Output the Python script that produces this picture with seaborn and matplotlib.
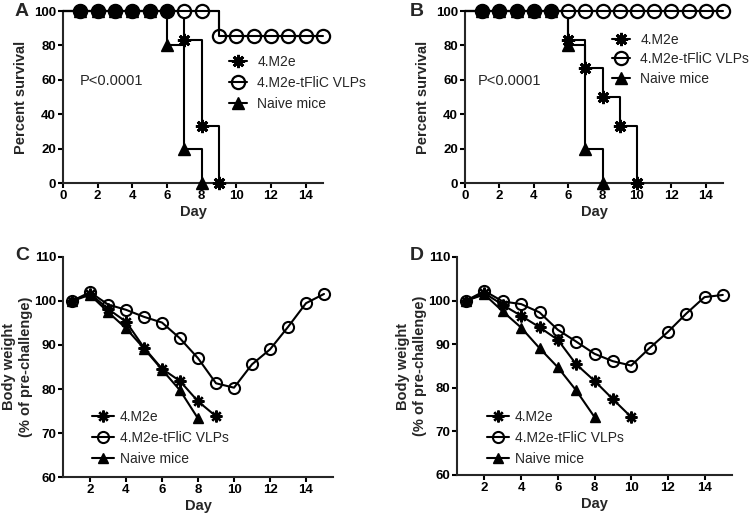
import numpy as np
import pandas as pd
import matplotlib
matplotlib.use("Agg")
import matplotlib.pyplot as plt
from matplotlib.lines import Line2D
import seaborn as sns

# ---------------- data ----------------
groups = ["4.M2e", "4.M2e-tFliC VLPs", "Naive mice"]

# Survival (percent) — panel A
surv_A_m2e_days = [0, 1, 2, 3, 4, 5, 6, 7, 8, 9]
surv_A_m2e = [100, 100, 100, 100, 100, 100, 100, 83.3, 33.3, 0]
surv_A_vlp_days = [0, 1, 2, 3, 4, 5, 6, 7, 8, 9, 10, 11, 12, 13, 14, 15]
surv_A_vlp = [100, 100, 100, 100, 100, 100, 100, 100, 100, 85.7, 85.7, 85.7, 85.7, 85.7, 85.7, 85.7]
surv_A_naive_days = [0, 1, 2, 3, 4, 5, 6, 7, 8]
surv_A_naive = [100, 100, 100, 100, 100, 100, 80, 20, 0]

# Survival (percent) — panel B
surv_B_m2e_days = [0, 1, 2, 3, 4, 5, 6, 7, 8, 9, 10]
surv_B_m2e = [100, 100, 100, 100, 100, 100, 83.3, 66.7, 50, 33.3, 0]
surv_B_vlp_days = [0, 1, 2, 3, 4, 5, 6, 7, 8, 9, 10, 11, 12, 13, 14, 15]
surv_B_vlp = [100, 100, 100, 100, 100, 100, 100, 100, 100, 100, 100, 100, 100, 100, 100, 100]
surv_B_naive_days = [0, 1, 2, 3, 4, 5, 6, 7, 8]
surv_B_naive = [100, 100, 100, 100, 100, 100, 80, 20, 0]

# Body weight (% of pre-challenge) — panel C
bw_C_m2e_days = [1, 2, 3, 4, 5, 6, 7, 8, 9]
bw_C_m2e = [100, 101.7, 98.2, 95.3, 89.4, 84.6, 81.8, 77.2, 73.8]
bw_C_vlp_days = [1, 2, 3, 4, 5, 6, 7, 8, 9, 10, 11, 12, 13, 14, 15]
bw_C_vlp = [100, 102.0, 99.2, 98.0, 96.4, 95.1, 91.5, 87.0, 81.3, 80.3, 85.6, 89.0, 94.1, 99.5, 101.6]
bw_C_naive_days = [1, 2, 3, 4, 5, 6, 7, 8]
bw_C_naive = [100, 101.4, 97.5, 93.8, 89.2, 84.4, 79.7, 73.3]

# Body weight (% of pre-challenge) — panel D
bw_D_m2e_days = [1, 2, 3, 4, 5, 6, 7, 8, 9, 10]
bw_D_m2e = [100, 101.7, 99.0, 96.5, 93.9, 91.0, 85.4, 81.6, 77.4, 73.3]
bw_D_vlp_days = [1, 2, 3, 4, 5, 6, 7, 8, 9, 10, 11, 12, 13, 14, 15]
bw_D_vlp = [100, 102.2, 99.8, 99.2, 97.3, 93.3, 90.6, 87.8, 86.1, 85.1, 89.1, 92.8, 97.0, 100.8, 101.3]
bw_D_naive_days = [1, 2, 3, 4, 5, 6, 7, 8]
bw_D_naive = [100, 101.4, 97.5, 93.8, 89.1, 84.7, 79.4, 73.3]

surv_xticks = [0, 2, 4, 6, 8, 10, 12, 14]
surv_yticks = [0, 20, 40, 60, 80, 100]
bw_xticks = [2, 4, 6, 8, 10, 12, 14]
bw_yticks = [60, 70, 80, 90, 100, 110]

# ---------------- style ----------------
sns.set_style("ticks")
plt.rcParams["font.family"] = ["Liberation Sans", "DejaVu Sans"]
plt.rcParams["axes.linewidth"] = 1.5
plt.rcParams["xtick.major.width"] = 1.5
plt.rcParams["ytick.major.width"] = 1.5
plt.rcParams["xtick.major.size"] = 3.5
plt.rcParams["ytick.major.size"] = 3.5
plt.rcParams["xtick.direction"] = "out"
plt.rcParams["ytick.direction"] = "out"

W, H = 750, 516
fig = plt.figure(figsize=(W / 100, H / 100), dpi=100)


def px_axes(left, right, top, bottom):
    return fig.add_axes([left / W, 1 - bottom / H, (right - left) / W, (bottom - top) / H])


STAR = (8, 2, 0)
LW = 1.5


def style_axes(ax, xticks, yticks, xlabel, ylabel, ylabelpad):
    sns.despine(ax=ax)
    ax.set_xticks(xticks)
    ax.set_yticks(yticks)
    ax.set_xticklabels([str(t) for t in xticks], fontsize=9.5, fontweight="bold")
    ax.set_yticklabels([str(t) for t in yticks], fontsize=9.5, fontweight="bold")
    ax.tick_params(axis="both", pad=1.5, colors="black")
    ax.set_xlabel(xlabel, fontsize=10.5, fontweight="bold", labelpad=2)
    ax.set_ylabel(ylabel, fontsize=10.5, fontweight="bold", labelpad=ylabelpad)
    ax.set_facecolor("white")


def survival_panel(ax, m2e_d, m2e, vlp_d, vlp, nv_d, nv):
    for d, v in [(nv_d, nv), (m2e_d, m2e), (vlp_d, vlp)]:
        sns.lineplot(x=d, y=v, ax=ax, color="black", lw=LW, drawstyle="steps-post",
                     sort=False, clip_on=False, zorder=3)
    ms = 9.5
    # markers at day >= 1
    ax.plot(nv_d[1:], nv[1:], ls="none", marker="^", ms=8, color="black", clip_on=False, zorder=4)
    ax.plot(m2e_d[1:], m2e[1:], ls="none", marker=STAR, ms=ms, mew=2.0, color="black",
            clip_on=False, zorder=4)
    ax.plot(vlp_d[1:], vlp[1:], ls="none", marker="o", ms=ms, mfc="white", mec="black",
            mew=1.6, clip_on=False, zorder=5)
    # where 4.M2e and VLP symbols overlap, the combined symbol reads as a solid dot
    m2e_map = dict(zip(m2e_d, m2e))
    ov_d = [d for d, v in zip(vlp_d[1:], vlp[1:]) if m2e_map.get(d) == v]
    ov_v = [m2e_map[d] for d in ov_d]
    ax.plot(ov_d, ov_v, ls="none", marker="o", ms=ms, mfc="black", mec="black",
            clip_on=False, zorder=6)
    # horizontal VLP line drawn through the hollow circles
    sns.lineplot(x=vlp_d, y=vlp, ax=ax, color="black", lw=LW, drawstyle="steps-post",
                 sort=False, clip_on=False, zorder=5.5)
    ax.set_xlim(0, 15)
    ax.set_ylim(0, 100)
    style_axes(ax, surv_xticks, surv_yticks, "Day", "Percent survival", 4)


def weight_panel(ax, m2e_d, m2e, vlp_d, vlp, nv_d, nv):
    sns.lineplot(x=nv_d, y=nv, ax=ax, color="black", lw=LW, marker="^", ms=7,
                 mec="black", mew=1, clip_on=False, zorder=3)
    sns.lineplot(x=m2e_d, y=m2e, ax=ax, color="black", lw=LW, marker=STAR, ms=8.5,
                 mec="black", mew=1.7, clip_on=False, zorder=4)
    sns.lineplot(x=vlp_d, y=vlp, ax=ax, color="black", lw=LW, marker="o", ms=8,
                 mfc="none", mec="black", mew=1.5, clip_on=False, zorder=5)
    ax.set_xlim(0.5, 15.5)
    ax.set_ylim(60, 110)
    style_axes(ax, bw_xticks, bw_yticks, "Day", "Body weight\n(% of pre-challenge)", 1)


def legend_handles(big):
    if big:
        return [
            Line2D([], [], color="black", lw=LW, marker=STAR, ms=9.5, mew=2.0),
            Line2D([], [], color="black", lw=LW, marker="o", ms=9.5, mfc="none", mec="black", mew=1.6),
            Line2D([], [], color="black", lw=LW, marker="^", ms=8),
        ]
    return [
        Line2D([], [], color="black", lw=LW, marker=STAR, ms=8.5, mew=1.7),
        Line2D([], [], color="black", lw=LW, marker="o", ms=8, mfc="none", mec="black", mew=1.5),
        Line2D([], [], color="black", lw=LW, marker="^", ms=7.5),
    ]


def add_legend(ax, x, y, spacing, handlelength, textpad, big):
    leg = ax.legend(handles=legend_handles(big), labels=groups, loc="upper left",
                    bbox_to_anchor=(x / W, 1 - y / H), bbox_transform=fig.transFigure,
                    frameon=False, fontsize=10, borderpad=0, borderaxespad=0,
                    handlelength=handlelength, handletextpad=textpad, labelspacing=spacing)
    return leg


# ---------------- panels ----------------
axA = px_axes(63, 323, 11, 183)
survival_panel(axA, surv_A_m2e_days, surv_A_m2e, surv_A_vlp_days, surv_A_vlp,
               surv_A_naive_days, surv_A_naive)
add_legend(axA, 229, 55, 0.5, 1.3, 0.75, True)
axA.text(80 / W, 1 - 81 / H, "P<0.0001", transform=fig.transFigure, fontsize=10.5,
         va="center", ha="left")

axB = px_axes(465, 723, 11, 183)
survival_panel(axB, surv_B_m2e_days, surv_B_m2e, surv_B_vlp_days, surv_B_vlp,
               surv_B_naive_days, surv_B_naive)
add_legend(axB, 612, 33, 0.38, 1.3, 0.75, True)
axB.text(478 / W, 1 - 81 / H, "P<0.0001", transform=fig.transFigure, fontsize=10.5,
         va="center", ha="left")

axC = px_axes(63, 333, 257, 477)
weight_panel(axC, bw_C_m2e_days, bw_C_m2e, bw_C_vlp_days, bw_C_vlp, bw_C_naive_days, bw_C_naive)
add_legend(axC, 92, 410, 0.5, 1.6, 0.4, False)

axD = px_axes(457, 732, 257, 475)
weight_panel(axD, bw_D_m2e_days, bw_D_m2e, bw_D_vlp_days, bw_D_vlp, bw_D_naive_days, bw_D_naive)
add_legend(axD, 487, 410, 0.5, 1.6, 0.4, False)

for letter, x, y in [("A", 22, 12), ("B", 417, 12), ("C", 22, 256), ("D", 417, 256)]:
    fig.text(x / W, 1 - y / H, letter, fontsize=14, fontweight="bold", ha="center", va="center")

fig.savefig("out.png", dpi=100, facecolor="white")
